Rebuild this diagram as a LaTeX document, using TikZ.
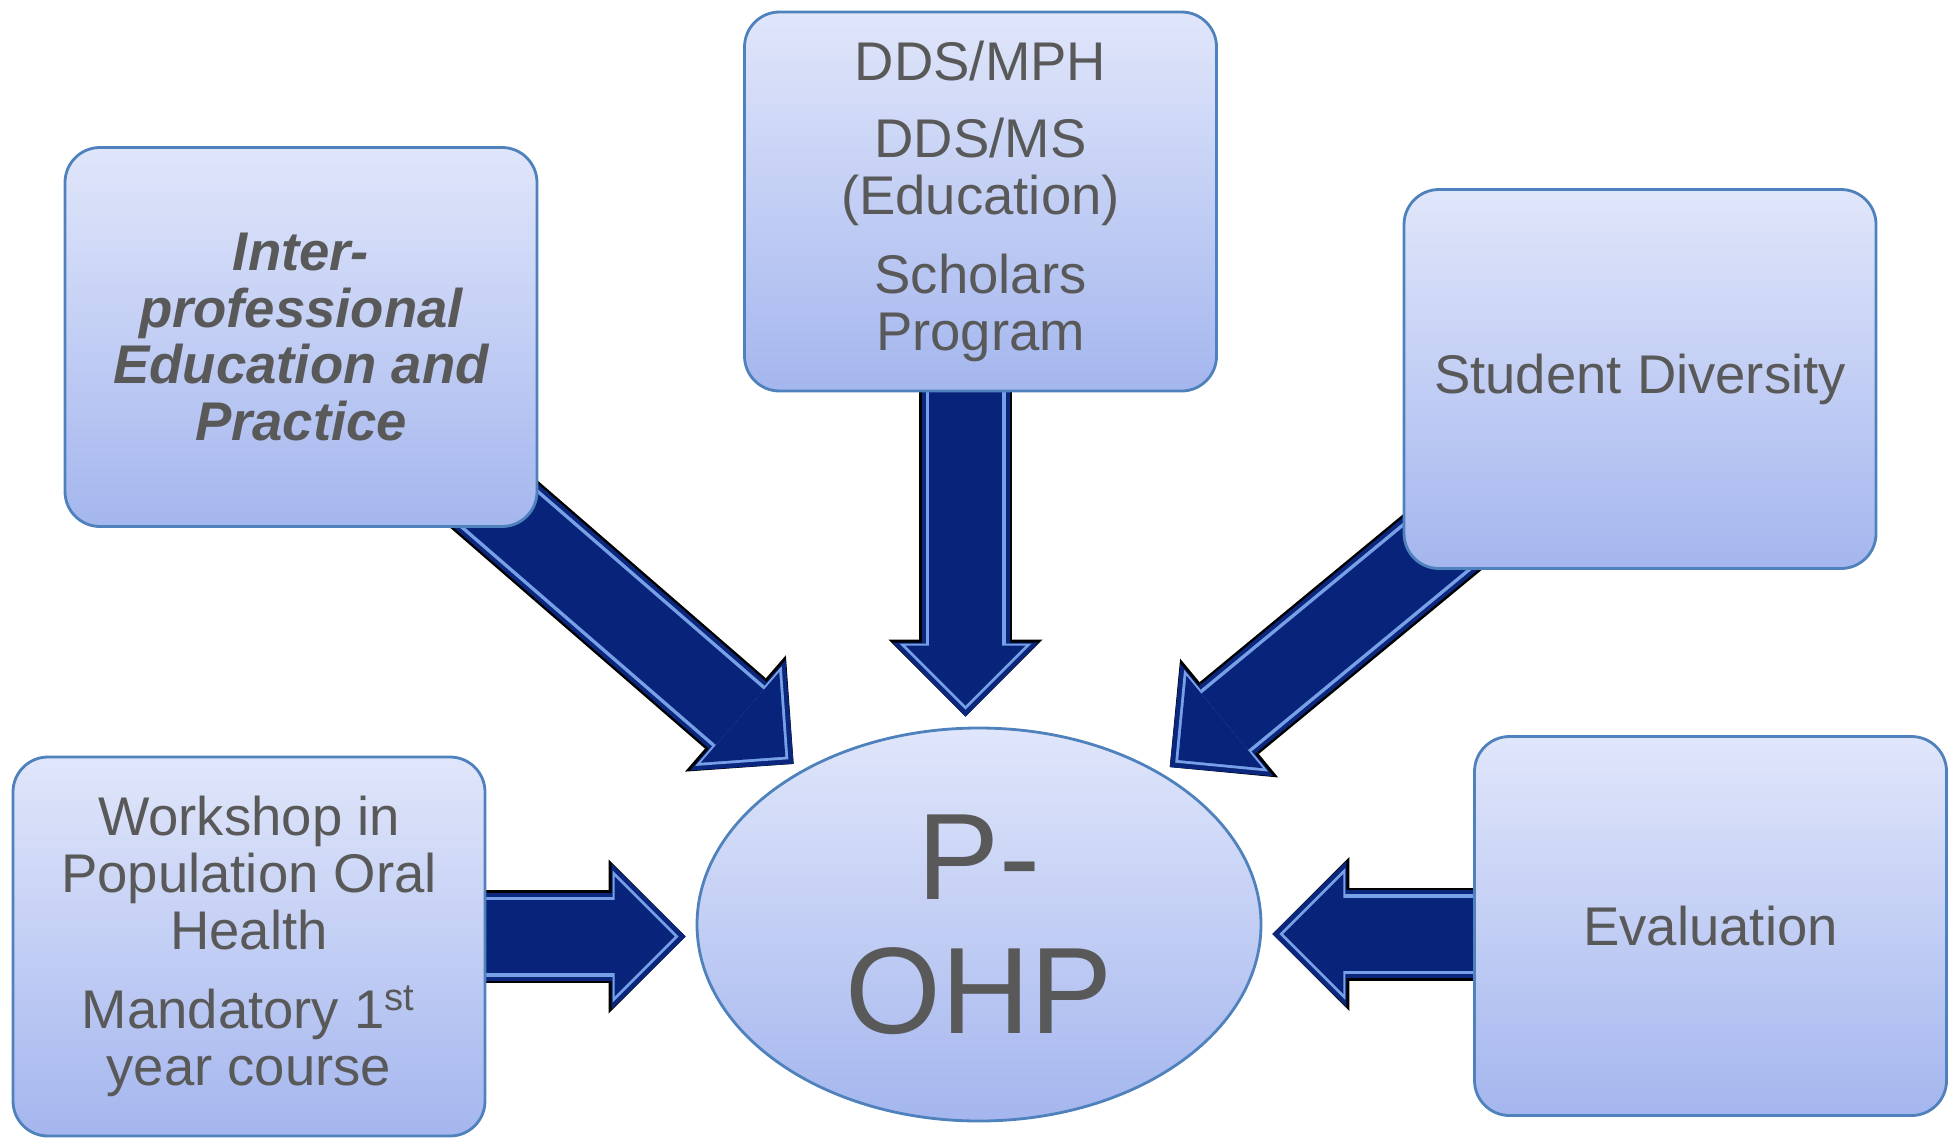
\documentclass[tikz,border=0pt]{standalone}
\usepackage{fontspec}
\setmainfont{Liberation Sans}
\usetikzlibrary{shapes.geometric,arrows.meta,backgrounds}
\begin{document}
\begin{tikzpicture}[
  bluefill/.style={draw={rgb,255:red,79;green,129;blue,189},line width=0.8pt,
    top color={rgb,255:red,224;green,230;blue,250},bottom color={rgb,255:red,164;green,182;blue,238},
    align=center,text={black!65}},
  box/.style={bluefill,rounded corners=0.35cm,minimum width=4.72cm,minimum height=3.79cm,
    font=\fontsize{15.5}{16.2}\selectfont},
  bigarrow/.style={draw={rgb,255:red,10;green,38;blue,125},line width=0.88cm,shorten >=0.1cm,
    -{Triangle[length=0.74cm,width=1.46cm,line width=0pt]},
    preaction={draw=black,line width=0.93cm,shorten >=0.1cm,
      -{Triangle[length=0.77cm,width=1.54cm,line width=0pt]}},
    postaction={draw={rgb,255:red,120;green,160;blue,230},line width=0.8cm,shorten >=0.17cm,
      -{Triangle[length=0.66cm,width=1.32cm,line width=0pt]}},
    postaction={draw={rgb,255:red,8;green,36;blue,122},line width=0.73cm,shorten >=0.21cm,
      -{Triangle[length=0.6cm,width=1.2cm,line width=0pt]}}}
]
\useasboundingbox (0,0) rectangle (19.58,11.39);
\node[box,font=\fontsize{15.5}{16.2}\selectfont\bfseries\itshape] (ipe) at (3.01,8.02) {Inter-\\professional\\Education and\\Practice};
\node[box] (dds) at (9.805,9.375) {DDS/MPH\\[0.2cm]DDS/MS\\(Education)\\[0.22cm]Scholars\\Program};
\node[box] (std) at (16.40,7.60) {Student Diversity};
\node[box] (wop) at (2.49,1.925) {Workshop in\\Population Oral\\Health\\[0.22cm]Mandatory 1\textsuperscript{st}\\year course};
\node[box] (eva) at (17.105,2.13) {Evaluation};
\node[bluefill,ellipse,minimum width=5.64cm,minimum height=3.93cm,inner sep=0pt,
  font=\fontsize{35}{38}\selectfont] (ohp) at (9.79,2.145) {P-\\OHP};
\begin{scope}[on background layer]
\coordinate (ddsout) at ([xshift=-0.15cm]dds.center);
\coordinate (wopout) at ([yshift=0.1cm]wop.center);
\coordinate (evaout) at ([yshift=-0.08cm]eva.center);
\draw[bigarrow] (ipe.center) -- (ohp);
\draw[bigarrow] (ddsout) -- (ddsout |- ohp.north);
\draw[bigarrow] (std.center) -- (ohp);
\draw[bigarrow] (wopout) -- (wopout -| ohp.west);
\draw[bigarrow] (evaout) -- (evaout -| ohp.east);
\end{scope}
\end{tikzpicture}
\end{document}
